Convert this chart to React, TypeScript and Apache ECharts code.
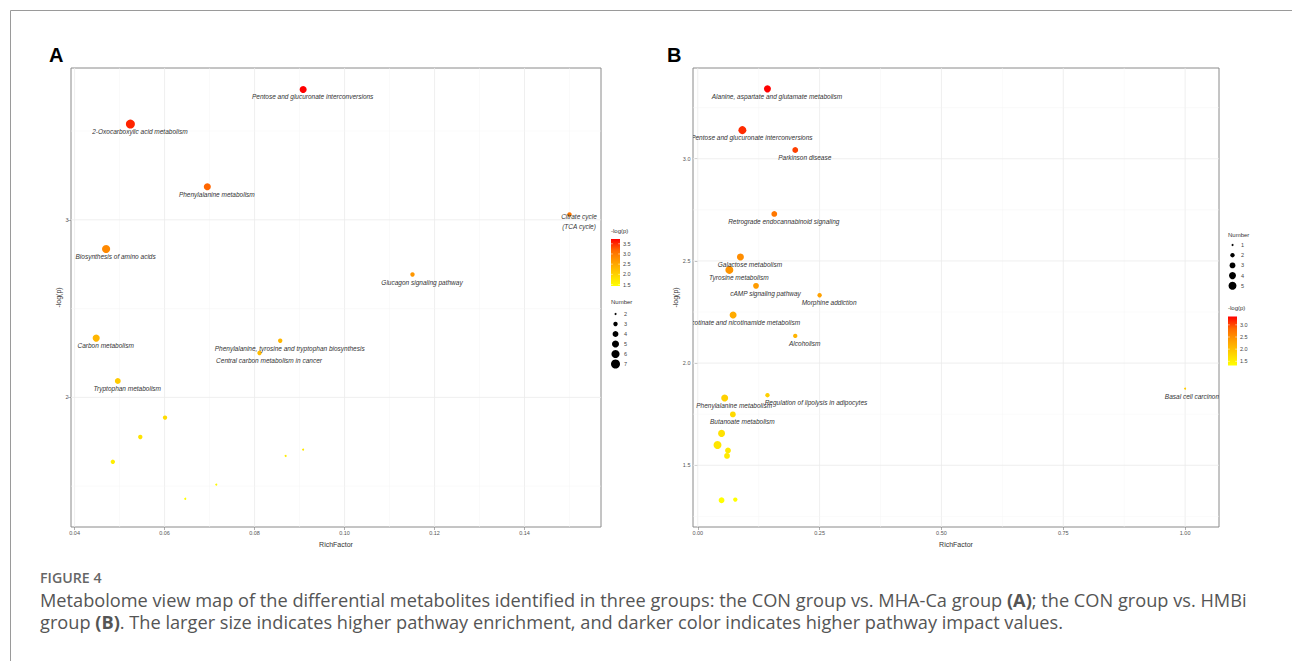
import React, { useEffect, useRef } from 'react';
import * as echarts from 'echarts';

// ---------- Panel A data ----------
const labelsA = [
  'Pentose and glucuronate interconversions',
  '2-Oxocarboxylic acid metabolism',
  'Phenylalanine metabolism',
  'Citrate cycle\n(TCA cycle)',
  'Biosynthesis of amino acids',
  'Glucagon signaling pathway',
  'Carbon metabolism',
  'Phenylalanine, tyrosine and tryptophan biosynthesis',
  'Central carbon metabolism in cancer',
  'Tryptophan metabolism',
  '', '', '', '', '', '', '',
];
const richA = [0.0908, 0.0524, 0.0695, 0.15, 0.047, 0.1151, 0.0448, 0.0857, 0.0811, 0.0496, 0.0601, 0.0546, 0.0485, 0.0908, 0.0869, 0.0715, 0.0646];
const logpA = [3.734, 3.539, 3.186, 3.03, 2.836, 2.692, 2.334, 2.319, 2.25, 2.092, 1.886, 1.777, 1.637, 1.706, 1.67, 1.509, 1.429];
const numA = [5, 7, 5, 3, 6, 3, 5, 3, 3, 4, 3, 3, 3, 2, 2, 2, 2];

const xTicksA = [0.04, 0.06, 0.08, 0.1, 0.12, 0.14];
const xMinorA = [0.05, 0.07, 0.09, 0.11, 0.13, 0.15];
const yTicksA = [2, 3];
const yMinorA = [1.5, 2.5, 3.5];
const legendLogTicksA = [3.5, 3.0, 2.5, 2.0, 1.5];
const legendNumA = [2, 3, 4, 5, 6, 7];

// ---------- Panel B data ----------
const labelsB = [
  'Alanine, aspartate and glutamate metabolism',
  'Pentose and glucuronate interconversions',
  'Parkinson disease',
  'Retrograde endocannabinoid signaling',
  'Galactose metabolism',
  'Tyrosine metabolism',
  'cAMP signaling pathway',
  'Morphine addiction',
  'Nicotinate and nicotinamide metabolism',
  'Alcoholism',
  'Phenylalanine metabolism',
  'Regulation of lipolysis in adipocytes',
  'Butanoate metabolism',
  'Basal cell carcinoma',
  '', '', '', '', '', '',
];
const richB = [0.143, 0.0915, 0.2, 0.157, 0.0875, 0.0648, 0.1195, 0.25, 0.0725, 0.2, 0.0552, 0.143, 0.072, 1.0, 0.0488, 0.0405, 0.062, 0.06, 0.0488, 0.077];
const logpB = [3.342, 3.14, 3.043, 2.73, 2.519, 2.456, 2.378, 2.332, 2.235, 2.133, 1.829, 1.843, 1.749, 1.875, 1.656, 1.599, 1.572, 1.546, 1.329, 1.332];
const numB = [4, 5, 3, 3, 4, 5, 3, 2, 4, 2, 4, 2, 3, 1, 4, 5, 3, 3, 3, 2];

const xTicksB = [0, 0.25, 0.5, 0.75, 1.0];
const xMinorB = [0.125, 0.375, 0.625, 0.875];
const yTicksB = [1.5, 2.0, 2.5, 3.0];
const yMinorB = [1.25, 1.75, 2.25, 2.75, 3.25];
const legendLogTicksB = [3.0, 2.5, 2.0, 1.5];
const legendNumB = [1, 2, 3, 4, 5];

// ---------- layout / style ----------
const RAMP = ['#FFFF00', '#FFD100', '#FFA100', '#FF6B00', '#FF0000'];
const FONT = '"Liberation Sans", Arial, sans-serif';
const CAPFONT = '"Open Sans", sans-serif';

const AX = { xMin: 0.0392, xMax: 0.157, yMin: 1.27, yMax: 3.855 };
const BX = { xMin: -0.0098, xMax: 1.0695, yMin: 1.198, yMax: 3.444 };

const gridA = { left: 71, top: 68, width: 530, height: 459 };
const gridB = { left: 693, top: 68, width: 526, height: 459 };

const labelNudge: Record<string, number[]> = {
  'Regulation of lipolysis in adipocytes': [48.5, 7.5],
};

function sizeFn(nmin: number, nmax: number, dmin: number, dmax: number) {
  return (n: number) => Math.sqrt(dmin * dmin + ((n - nmin) / (nmax - nmin)) * (dmax * dmax - dmin * dmin));
}
const sizeA = sizeFn(2, 7, 2, 9);
const sizeB = sizeFn(1, 5, 2, 8);

function gridLineSeries(idx: number, ext: any, xMaj: number[], xMin: number[], yMaj: number[], yMin: number[]) {
  const data: number[][] = [];
  xMaj.forEach((v) => data.push([v, 0, 1]));
  xMin.forEach((v) => data.push([v, 0, 0]));
  yMaj.forEach((v) => data.push([v, 1, 1]));
  yMin.forEach((v) => data.push([v, 1, 0]));
  return {
    type: 'custom',
    xAxisIndex: idx,
    yAxisIndex: idx,
    silent: true,
    clip: true,
    z: 1,
    data,
    renderItem: (params: any, api: any) => {
      const v = api.value(0);
      const o = api.value(1);
      const m = api.value(2);
      let p1, p2;
      if (o === 0) {
        p1 = api.coord([v, ext.yMin]);
        p2 = api.coord([v, ext.yMax]);
      } else {
        p1 = api.coord([ext.xMin, v]);
        p2 = api.coord([ext.xMax, v]);
      }
      return {
        type: 'line',
        shape: { x1: p1[0], y1: p1[1], x2: p2[0], y2: p2[1] },
        style: { stroke: m ? '#EBEBEB' : '#F4F4F4', lineWidth: m ? 0.8 : 0.5 },
      };
    },
  };
}

function scatterSeries(idx: number, xs: number[], ys: number[], ns: number[], sz: (n: number) => number) {
  return {
    type: 'scatter',
    xAxisIndex: idx,
    yAxisIndex: idx,
    z: 2,
    symbol: 'circle',
    symbolSize: (val: number[]) => sz(val[2]),
    itemStyle: { opacity: 1 },
    data: xs.map((x, i) => [x, ys[i], ns[i]]),
  };
}

function labelSeries(idx: number, xs: number[], ys: number[], labels: string[]) {
  return {
    type: 'custom',
    xAxisIndex: idx,
    yAxisIndex: idx,
    silent: true,
    clip: true,
    z: 3,
    data: xs.map((x, i) => [x, ys[i]]),
    renderItem: (params: any, api: any) => {
      const text = labels[params.dataIndex];
      if (!text) return { type: 'group', children: [] };
      const p = api.coord([api.value(0), api.value(1)]);
      const off = labelNudge[text] || [9.5, 7.5];
      return {
        type: 'text',
        x: p[0] + off[0],
        y: p[1] + off[1],
        style: {
          text,
          fill: '#333333',
          fontSize: 6.5,
          fontStyle: 'italic',
          fontFamily: FONT,
          align: 'center',
          verticalAlign: 'middle',
          lineHeight: 10,
        },
      };
    },
  };
}

function xAxisDef(idx: number, ext: any, ticks: number[], dec: number) {
  return {
    type: 'value',
    gridIndex: idx,
    min: ext.xMin,
    max: ext.xMax,
    name: 'RichFactor',
    nameLocation: 'middle',
    nameGap: 14,
    nameTextStyle: { fontSize: 7, color: '#333', fontFamily: FONT },
    axisLine: { show: false },
    splitLine: { show: false },
    axisTick: { show: true, length: 3, customValues: ticks, lineStyle: { color: '#7a7a7a', width: 0.6 } },
    axisLabel: {
      show: true,
      customValues: ticks,
      fontSize: 5.5,
      color: '#555',
      fontFamily: FONT,
      margin: 2.5,
      formatter: (v: number) => v.toFixed(dec),
    },
  };
}

function yAxisDef(idx: number, ext: any, ticks: number[], dec: number, gap: number) {
  return {
    type: 'value',
    gridIndex: idx,
    min: ext.yMin,
    max: ext.yMax,
    name: '-log(p)',
    nameLocation: 'middle',
    nameGap: gap,
    nameRotate: 90,
    nameTextStyle: { fontSize: 7, color: '#333', fontFamily: FONT },
    axisLine: { show: false },
    splitLine: { show: false },
    axisTick: { show: true, length: 3, customValues: ticks, lineStyle: { color: '#7a7a7a', width: 0.6 } },
    axisLabel: {
      show: true,
      customValues: ticks,
      fontSize: 5.5,
      color: '#555',
      fontFamily: FONT,
      margin: 2.5,
      formatter: (v: number) => v.toFixed(dec),
    },
  };
}

function colorBar(x: number, top: number, bottom: number, vmin: number, vmax: number, ticks: number[], titleY: number) {
  const els: any[] = [];
  const w = 9;
  els.push({
    type: 'text',
    x,
    y: titleY,
    style: { text: '-log(p)', fontSize: 6, fill: '#333', fontFamily: FONT, verticalAlign: 'middle' },
  });
  const stops = RAMP.slice().reverse().map((c, i) => ({ offset: i / (RAMP.length - 1), color: c }));
  els.push({
    type: 'rect',
    shape: { x, y: top, width: w, height: bottom - top },
    style: { fill: { type: 'linear', x: 0, y: 0, x2: 0, y2: 1, colorStops: stops } },
  });
  ticks.forEach((t) => {
    const y = top + ((vmax - t) / (vmax - vmin)) * (bottom - top);
    els.push({ type: 'line', shape: { x1: x, y1: y, x2: x + 1.8, y2: y }, style: { stroke: '#fff', lineWidth: 0.5 } });
    els.push({ type: 'line', shape: { x1: x + w - 1.8, y1: y, x2: x + w, y2: y }, style: { stroke: '#fff', lineWidth: 0.5 } });
    els.push({
      type: 'text',
      x: x + w + 3,
      y,
      style: { text: t.toFixed(1), fontSize: 5.5, fill: '#444', fontFamily: FONT, verticalAlign: 'middle' },
    });
  });
  return els;
}

function numLegend(x: number, titleY: number, y0: number, step: number, nums: number[], sz: (n: number) => number) {
  const els: any[] = [];
  els.push({
    type: 'text',
    x,
    y: titleY,
    style: { text: 'Number', fontSize: 6, fill: '#333', fontFamily: FONT, verticalAlign: 'middle' },
  });
  nums.forEach((n, i) => {
    const y = y0 + i * step;
    els.push({ type: 'circle', shape: { cx: x + 4.5, cy: y, r: sz(n) / 2 }, style: { fill: '#000' } });
    els.push({
      type: 'text',
      x: x + 13,
      y,
      style: { text: String(n), fontSize: 5.5, fill: '#444', fontFamily: FONT, verticalAlign: 'middle' },
    });
  });
  return els;
}

export default function App() {
  const ref = useRef<HTMLDivElement>(null);
  useEffect(() => {
    if (!ref.current) return;
    const chart = echarts.init(ref.current, undefined, { renderer: 'svg' });
    const minA = Math.min(...logpA);
    const maxA = Math.max(...logpA);
    const minB = Math.min(...logpB);
    const maxB = Math.max(...logpB);

    const capStyle = {
      fontSize: 18.2,
      fontFamily: CAPFONT,
      fill: '#555',
      verticalAlign: 'middle',
      rich: { b: { fontSize: 18.2, fontFamily: CAPFONT, fontWeight: 'bold', fill: '#555' } },
    };

    const graphics: any[] = [
      {
        type: 'rect',
        silent: true,
        z: -10,
        shape: { x: 10.5, y: 10.5, width: 1400, height: 800 },
        style: { fill: 'none', stroke: '#9a9a9a', lineWidth: 1 },
      },
      { type: 'text', x: 49, y: 55, style: { text: 'A', font: `bold 20px ${FONT}`, fill: '#000', verticalAlign: 'middle' } },
      { type: 'text', x: 667, y: 55, style: { text: 'B', font: `bold 20px ${FONT}`, fill: '#000', verticalAlign: 'middle' } },
      ...colorBar(611, 239, 286, minA, maxA, legendLogTicksA, 231),
      ...numLegend(611, 302, 314, 10, legendNumA, sizeA),
      ...numLegend(1228, 235, 245, 10.2, legendNumB, sizeB),
      ...colorBar(1228, 316.5, 365.5, minB, maxB, legendLogTicksB, 308),
      {
        type: 'text',
        x: 40,
        y: 577,
        style: { text: 'FIGURE 4', fontSize: 14.2, fontWeight: 600, fontFamily: CAPFONT, fill: '#666', verticalAlign: 'middle' },
      },
      {
        type: 'text',
        x: 40,
        y: 600,
        style: {
          ...capStyle,
          text: 'Metabolome view map of the differential metabolites identified in three groups: the CON group vs. MHA-Ca group {b|(A)}; the CON group vs. HMBi',
        },
      },
      {
        type: 'text',
        x: 40,
        y: 622,
        style: {
          ...capStyle,
          text: 'group {b|(B)}. The larger size indicates higher pathway enrichment, and darker color indicates higher pathway impact values.',
        },
      },
    ];

    chart.setOption({
      animation: false,
      backgroundColor: '#ffffff',
      grid: [
        { ...gridA, show: true, borderColor: '#8a8a8a', borderWidth: 1, backgroundColor: '#fff', containLabel: false },
        { ...gridB, show: true, borderColor: '#8a8a8a', borderWidth: 1, backgroundColor: '#fff', containLabel: false },
      ],
      xAxis: [xAxisDef(0, AX, xTicksA, 2), xAxisDef(1, BX, xTicksB, 2)],
      yAxis: [yAxisDef(0, AX, yTicksA, 0, 9), yAxisDef(1, BX, yTicksB, 1, 13)],
      visualMap: [
        { type: 'continuous', show: false, seriesIndex: 1, dimension: 1, min: minA, max: maxA, inRange: { color: RAMP } },
        { type: 'continuous', show: false, seriesIndex: 4, dimension: 1, min: minB, max: maxB, inRange: { color: RAMP } },
      ],
      series: [
        gridLineSeries(0, AX, xTicksA, xMinorA, yTicksA, yMinorA),
        scatterSeries(0, richA, logpA, numA, sizeA),
        labelSeries(0, richA, logpA, labelsA),
        gridLineSeries(1, BX, xTicksB, xMinorB, yTicksB, yMinorB),
        scatterSeries(1, richB, logpB, numB, sizeB),
        labelSeries(1, richB, logpB, labelsB),
      ],
      graphic: graphics,
    });
    return () => chart.dispose();
  }, []);
  return <div ref={ref} style={{ position: 'fixed', left: 0, top: 0, width: 1292, height: 661 }} />;
}
